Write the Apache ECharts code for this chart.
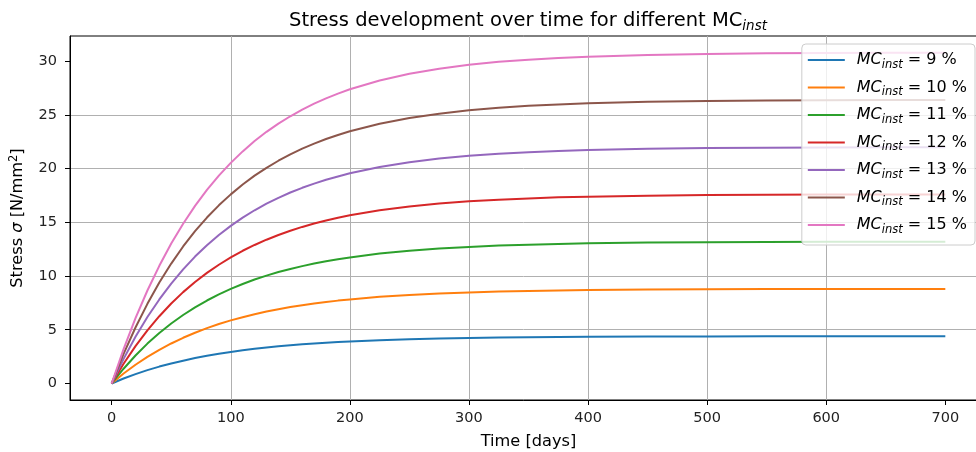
<!DOCTYPE html>
<html>
<head>
<meta charset="utf-8">
<script src="https://cdn.jsdelivr.net/npm/echarts@6/dist/echarts.min.js"></script>
<style>
html,body{margin:0;padding:0;background:#fff;}
#chart{width:976px;height:452px;}
</style>
</head>
<body>
<div id="chart"></div>
<script>
const timeDays = [0, 10, 20, 30, 40, 50, 60, 70, 80, 90, 100, 110, 120, 130, 140, 150, 160, 170, 180, 190, 200, 225, 250, 275, 300, 325, 350, 375, 400, 450, 500, 550, 600, 650, 700];
const mcLevels = ['9', '10', '11', '12', '13', '14', '15'];
const stressMC9  = [0, 0.46, 0.87, 1.24, 1.57, 1.86, 2.12, 2.36, 2.57, 2.76, 2.93, 3.09, 3.22, 3.35, 3.46, 3.55, 3.64, 3.72, 3.79, 3.85, 3.91, 4.03, 4.12, 4.19, 4.24, 4.28, 4.31, 4.33, 4.35, 4.37, 4.38, 4.39, 4.39, 4.40, 4.40];
const stressMC10 = [0, 0.92, 1.74, 2.47, 3.13, 3.72, 4.25, 4.72, 5.15, 5.53, 5.87, 6.17, 6.45, 6.69, 6.91, 7.11, 7.28, 7.44, 7.58, 7.71, 7.82, 8.06, 8.24, 8.37, 8.47, 8.55, 8.61, 8.66, 8.69, 8.74, 8.76, 8.78, 8.79, 8.79, 8.80];
const stressMC11 = [0, 1.37, 2.60, 3.71, 4.69, 5.58, 6.37, 7.08, 7.72, 8.29, 8.80, 9.26, 9.67, 10.04, 10.37, 10.66, 10.92, 11.16, 11.37, 11.56, 11.73, 12.09, 12.35, 12.56, 12.71, 12.83, 12.92, 12.99, 13.04, 13.11, 13.15, 13.17, 13.18, 13.19, 13.19];
const stressMC12 = [0, 1.83, 3.47, 4.94, 6.26, 7.44, 8.50, 9.44, 10.29, 11.05, 11.73, 12.35, 12.89, 13.38, 13.82, 14.21, 14.57, 14.88, 15.16, 15.42, 15.65, 16.12, 16.47, 16.74, 16.95, 17.11, 17.22, 17.32, 17.38, 17.48, 17.53, 17.56, 17.58, 17.59, 17.59];
const stressMC13 = [0, 2.29, 4.34, 6.18, 7.82, 9.30, 10.62, 11.81, 12.87, 13.82, 14.67, 15.43, 16.12, 16.73, 17.28, 17.77, 18.21, 18.60, 18.96, 19.27, 19.56, 20.14, 20.59, 20.93, 21.19, 21.38, 21.53, 21.64, 21.73, 21.84, 21.91, 21.95, 21.97, 21.98, 21.99];
const stressMC14 = [0, 2.75, 5.21, 7.41, 9.39, 11.16, 12.75, 14.17, 15.44, 16.58, 17.60, 18.52, 19.34, 20.07, 20.73, 21.32, 21.85, 22.32, 22.75, 23.13, 23.47, 24.17, 24.71, 25.11, 25.42, 25.66, 25.84, 25.97, 26.08, 26.21, 26.29, 26.34, 26.36, 26.38, 26.39];
const stressMC15 = [0, 3.20, 6.08, 8.65, 10.95, 13.02, 14.87, 16.53, 18.01, 19.34, 20.53, 21.60, 22.56, 23.42, 24.19, 24.87, 25.49, 26.04, 26.54, 26.98, 27.38, 28.20, 28.83, 29.30, 29.66, 29.94, 30.14, 30.30, 30.42, 30.58, 30.67, 30.73, 30.76, 30.78, 30.79];
const xTickValues = [0, 100, 200, 300, 400, 500, 600, 700];
const yTickValues = [0, 5, 10, 15, 20, 25, 30];

const allStress = [stressMC9, stressMC10, stressMC11, stressMC12, stressMC13, stressMC14, stressMC15];
const colors = ['#1f77b4', '#ff7f0e', '#2ca02c', '#d62728', '#9467bd', '#8c564b', '#e377c2'];
const FONT = 'DejaVu Sans';

const series = mcLevels.map((lvl, i) => ({
  name: lvl,
  type: 'line',
  data: timeDays.map((t, j) => [t, allStress[i][j]]),
  symbol: 'none',
  smooth: false,
  lineStyle: { width: 2, color: colors[i] },
  itemStyle: { color: colors[i] },
  z: 2
}));

const chart = echarts.init(document.getElementById('chart'), null, { renderer: 'canvas' });
chart.setOption({
  animation: false,
  backgroundColor: '#fff',
  color: colors,
  title: {
    text: '{t|Stress development over time for different MC}{s|inst}',
    left: 528,
    top: 9,
    padding: 0,
    textAlign: 'center',
    textStyle: {
      fontWeight: 'normal',
      rich: {
        t: { fontFamily: FONT, fontSize: 19.5, fontWeight: 'normal', color: '#000', lineHeight: 24 },
        s: { fontFamily: FONT, fontSize: 13.5, fontWeight: 'normal', fontStyle: 'italic', color: '#000', lineHeight: 14, verticalAlign: 'bottom' }
      }
    }
  },
  grid: {
    left: 70, top: 36, right: -11, bottom: 52,
    outerBoundsMode: 'none',
    containLabel: false,
    show: true, borderColor: '#000', borderWidth: 1, backgroundColor: 'transparent'
  },
  legend: {
    orient: 'vertical',
    right: 1,
    top: 44,
    itemWidth: 37,
    itemHeight: 2,
    itemGap: 8.5,
    padding: [8, 8, 9, 5],
    backgroundColor: 'rgba(255,255,255,0.8)',
    borderColor: '#cccccc',
    borderWidth: 1,
    borderRadius: 4,
    itemStyle: { opacity: 0 },
    data: mcLevels,
    formatter: name => '{g|}{a|MC}{s|inst}{n| = ' + name + ' %}',
    textStyle: {
      rich: {
        g: { width: 7, lineHeight: 22 },
        a: { fontFamily: FONT, fontSize: 16, fontStyle: 'italic', color: '#000', lineHeight: 22 },
        s: { fontFamily: FONT, fontSize: 11.5, fontStyle: 'italic', color: '#000', lineHeight: 17, verticalAlign: 'bottom' },
        n: { fontFamily: FONT, fontSize: 16, color: '#000', lineHeight: 22 }
      }
    }
  },
  xAxis: {
    type: 'value',
    min: -35,
    max: 735,
    splitNumber: 8,
    name: 'Time [days]',
    nameLocation: 'middle',
    nameGap: 32,
    nameTextStyle: { fontFamily: FONT, fontSize: 16.2, color: '#000', lineHeight: 20 },
    axisLine: { show: true, onZero: false, lineStyle: { color: '#000', width: 1 } },
    axisTick: { show: true, length: 5, inside: false, lineStyle: { color: '#000', width: 1 }, customValues: xTickValues },
    axisLabel: { fontFamily: FONT, fontSize: 14.5, color: '#222', margin: 11, customValues: xTickValues },
    splitLine: { show: true, showMinLine: false, showMaxLine: false, lineStyle: { color: '#b0b0b0', width: 1 } }
  },
  yAxis: {
    type: 'value',
    min: -1.54,
    max: 32.34,
    splitNumber: 7,
    name: '{a|Stress }{i|σ}{a| [N/mm}{p|2}{a|]}',
    nameLocation: 'middle',
    nameGap: 42,
    nameTextStyle: {
      rich: {
        a: { fontFamily: FONT, fontSize: 16.2, color: '#000', lineHeight: 20 },
        i: { fontFamily: FONT, fontSize: 16.2, fontStyle: 'italic', color: '#000', lineHeight: 20 },
        p: { fontFamily: FONT, fontSize: 11.5, color: '#000', lineHeight: 12, verticalAlign: 'top' }
      }
    },
    axisLine: { show: true, onZero: false, lineStyle: { color: '#000', width: 1 } },
    axisTick: { show: true, length: 5, inside: false, lineStyle: { color: '#000', width: 1 }, customValues: yTickValues },
    axisLabel: { fontFamily: FONT, fontSize: 14.5, color: '#222', margin: 13, customValues: yTickValues },
    splitLine: { show: true, showMinLine: false, showMaxLine: false, lineStyle: { color: '#b0b0b0', width: 1 } }
  },
  series: series
});
</script>
</body>
</html>
